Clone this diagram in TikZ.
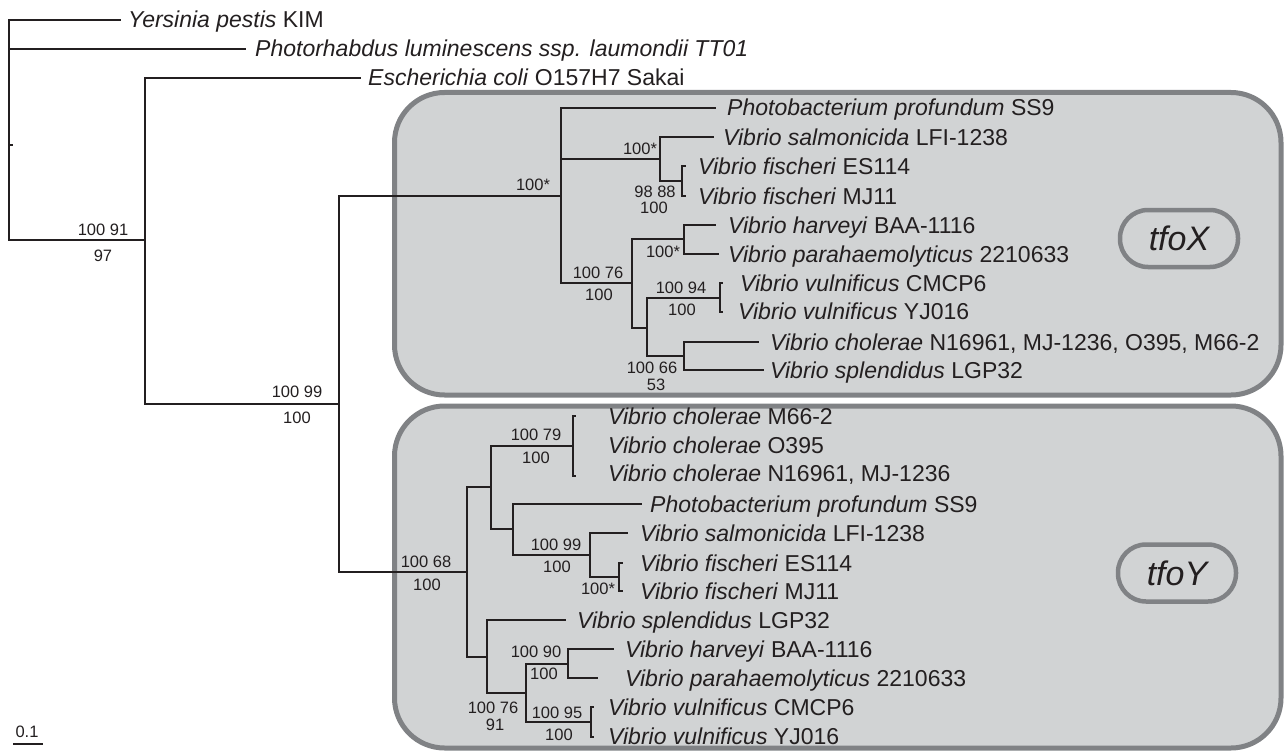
\documentclass[tikz,border=0pt]{standalone}
\usepackage{fontspec}
\setmainfont{Liberation Sans}
\definecolor{boxgray}{HTML}{808285}
\definecolor{boxfill}{HTML}{D1D3D4}
\definecolor{ink}{HTML}{231F20}
\begin{document}
\begin{tikzpicture}[x=1pt,y=-1pt,
 br/.style={line width=2.8pt, draw=ink, line cap=rect},
 taxon/.style={anchor=base west, inner sep=0pt, text=ink, font=\fontsize{23}{23}\selectfont},
 bs/.style={anchor=base, inner sep=0pt, text=ink, font=\fontsize{16.5}{16.5}\selectfont},
 clade/.style={draw=boxgray, fill=boxfill, line width=5pt, rounded corners=50pt},
 pill/.style={draw=boxgray, line width=4.5pt, rounded corners=28pt, minimum width=118pt, minimum height=57pt, inner sep=0pt, text=ink, font=\fontsize{34}{34}\selectfont\itshape}]
\useasboundingbox (0,0) rectangle (1286,752);
% clade boxes
\draw[clade] (394.5,92.5) rectangle (1281,395);
\draw[clade] (394.5,406) rectangle (1281,748);
\node[pill] (tfox) at (1179,238.5) {tfoX};
\node[pill] (tfoy) at (1177,573) {tfoY};
% coordinates
\coordinate (root) at (9,145);
\coordinate (rootnub) at (12,145);
\coordinate (tYp) at (120,20);
\coordinate (tPl) at (245,49);
\coordinate (n1) at (145,240);
\coordinate (tEc) at (360,78);
\coordinate (n2) at (339,404);
\coordinate (nX) at (561,196);
\coordinate (nY) at (467,572);
% tfoX
\coordinate (xPp) at (715,108);
\coordinate (xB) at (660,159);
\coordinate (xSa) at (713,137);
\coordinate (xC) at (682,181);
\coordinate (xFe) at (685,166);
\coordinate (xFm) at (685,196);
\coordinate (xD) at (632,283);
\coordinate (xE) at (684,239);
\coordinate (xHa) at (715,225);
\coordinate (xPa) at (718,254);
\coordinate (xF) at (647,328);
\coordinate (xG) at (720,298);
\coordinate (xVc) at (722,283);
\coordinate (xVy) at (722,312);
\coordinate (xH) at (684,356);
\coordinate (xCh) at (758,342);
\coordinate (xSp) at (763,370);
% tfoY
\coordinate (yJ) at (491,487);
\coordinate (yK) at (573,446);
\coordinate (yC1) at (575,416);
\coordinate (yC3) at (575,476);
\coordinate (yL) at (513,529);
\coordinate (yPp) at (641,504);
\coordinate (yM) at (590,555);
\coordinate (ySa) at (627,533);
\coordinate (yN) at (619,577);
\coordinate (yFe) at (622,563);
\coordinate (yFm) at (622,591);
\coordinate (yO) at (487,657);
\coordinate (ySp) at (565,620);
\coordinate (yP) at (526,693);
\coordinate (yQ) at (568,664);
\coordinate (yHa) at (613,649);
\coordinate (yPa) at (597,678);
\coordinate (yR) at (591,722);
\coordinate (yVc) at (593,707);
\coordinate (yVy) at (593,737);
% branches
\draw[br] (root) |- (tYp);
\draw[br] (root) |- (tPl);
\draw[br] (root) |- (n1);
\draw[br] (root) -- (rootnub);
\draw[br] (n1) |- (tEc);
\draw[br] (n1) |- (n2);
\draw[br] (n2) |- (nX);
\draw[br] (n2) |- (nY);
\draw[br] (nX) |- (xPp);
\draw[br] (nX) |- (xB);
\draw[br] (nX) |- (xD);
\draw[br] (xB) |- (xSa);
\draw[br] (xB) |- (xC);
\draw[br] (xC) |- (xFe);
\draw[br] (xC) |- (xFm);
\draw[br] (xD) |- (xE);
\draw[br] (xD) |- (xF);
\draw[br] (xE) |- (xHa);
\draw[br] (xE) |- (xPa);
\draw[br] (xF) |- (xG);
\draw[br] (xF) |- (xH);
\draw[br] (xG) |- (xVc);
\draw[br] (xG) |- (xVy);
\draw[br] (xH) |- (xCh);
\draw[br] (xH) |- (xSp);
\draw[br] (nY) |- (yJ);
\draw[br] (nY) |- (yO);
\draw[br] (yJ) |- (yK);
\draw[br] (yJ) |- (yL);
\draw[br] (yK) |- (yC1);
\draw[br] (yK) |- (yC3);
\draw[br] (yL) |- (yPp);
\draw[br] (yL) |- (yM);
\draw[br] (yM) |- (ySa);
\draw[br] (yM) |- (yN);
\draw[br] (yN) |- (yFe);
\draw[br] (yN) |- (yFm);
\draw[br] (yO) |- (ySp);
\draw[br] (yO) |- (yP);
\draw[br] (yP) |- (yQ);
\draw[br] (yP) |- (yR);
\draw[br] (yQ) |- (yHa);
\draw[br] (yQ) |- (yPa);
\draw[br] (yR) |- (yVc);
\draw[br] (yR) |- (yVy);
% taxa
\node[taxon] (Yp) at (128,28) {\textit{Yersinia pestis} KIM};
\node[taxon] (Pl) at (255,57) {\textit{Photorhabdus luminescens ssp. laumondii TT01}};
\node[taxon] (Ec) at (368,86) {\textit{Escherichia coli} O157H7 Sakai};
\node[taxon] (XPp) at (727,116) {\textit{Photobacterium profundum} SS9};
\node[taxon] (XSa) at (723,145) {\textit{Vibrio salmonicida} LFI-1238};
\node[taxon] (XFe) at (698,174) {\textit{Vibrio fischeri} ES114};
\node[taxon] (XFm) at (698,204) {\textit{Vibrio fischeri} MJ11};
\node[taxon] (XHa) at (728,233) {\textit{Vibrio harveyi} BAA-1116};
\node[taxon] (XPa) at (728,262) {\textit{Vibrio parahaemolyticus} 2210633};
\node[taxon] (XVc) at (740,291) {\textit{Vibrio vulnificus} CMCP6};
\node[taxon] (XVy) at (738,319) {\textit{Vibrio vulnificus} YJ016};
\node[taxon] (XCh) at (770,350) {\textit{Vibrio cholerae} N16961, MJ-1236, O395, M66-2};
\node[taxon] (XSp) at (770,378) {\textit{Vibrio splendidus} LGP32};
\node[taxon] (YC1) at (608,424) {\textit{Vibrio cholerae} M66-2};
\node[taxon] (YC2) at (608,453) {\textit{Vibrio cholerae} O395};
\node[taxon] (YC3) at (608,481) {\textit{Vibrio cholerae} N16961, MJ-1236};
\node[taxon] (YPp) at (650,512) {\textit{Photobacterium profundum} SS9};
\node[taxon] (YSa) at (640,541) {\textit{Vibrio salmonicida} LFI-1238};
\node[taxon] (YFe) at (640,571) {\textit{Vibrio fischeri} ES114};
\node[taxon] (YFm) at (640,599) {\textit{Vibrio fischeri} MJ11};
\node[taxon] (YSp) at (577,628) {\textit{Vibrio splendidus} LGP32};
\node[taxon] (YHa) at (625,657) {\textit{Vibrio harveyi} BAA-1116};
\node[taxon] (YPa) at (625,686) {\textit{Vibrio parahaemolyticus} 2210633};
\node[taxon] (YVc) at (608,715) {\textit{Vibrio vulnificus} CMCP6};
\node[taxon] (YVy) at (608,744) {\textit{Vibrio vulnificus} YJ016};
% support values
\node[bs] (b1a) at (103,235) {100 91};
\node[bs] (b1b) at (103,261) {97};
\node[bs] (b2a) at (297,397) {100 99};
\node[bs] (b2b) at (297,423) {100};
\node[bs] (b3) at (533,190) {100*};
\node[bs] (b4) at (640,154) {100*};
\node[bs] (b5a) at (655,197) {98 88};
\node[bs] (b5b) at (654,213) {100};
\node[bs] (b6) at (663,257) {100*};
\node[bs] (b7a) at (598,278) {100 76};
\node[bs] (b7b) at (599,300) {100};
\node[bs] (b8a) at (681,293) {100 94};
\node[bs] (b8b) at (682,315) {100};
\node[bs] (b9a) at (652,373) {100 66};
\node[bs] (b9b) at (656,390) {53};
\node[bs] (b10a) at (426,567) {100 68};
\node[bs] (b10b) at (427,590) {100};
\node[bs] (b11a) at (536,440) {100 79};
\node[bs] (b11b) at (536,463) {100};
\node[bs] (b12a) at (556,550) {100 99};
\node[bs] (b12b) at (557,572) {100};
\node[bs] (b13) at (598,594) {100*};
\node[bs] (b14a) at (536,657) {100 90};
\node[bs] (b14b) at (544,679) {100};
\node[bs] (b15a) at (493,713) {100 76};
\node[bs] (b15b) at (495,730) {91};
\node[bs] (b16a) at (557,718) {100 95};
\node[bs] (b16b) at (559,740) {100};
% scale bar
\node[bs] (scl) at (27,737) {0.1};
\coordinate (sb1) at (13,744);
\coordinate (sb2) at (43,744);
\draw[line width=2.2pt, draw=ink] (sb1) -- (sb2);
\end{tikzpicture}
\end{document}
